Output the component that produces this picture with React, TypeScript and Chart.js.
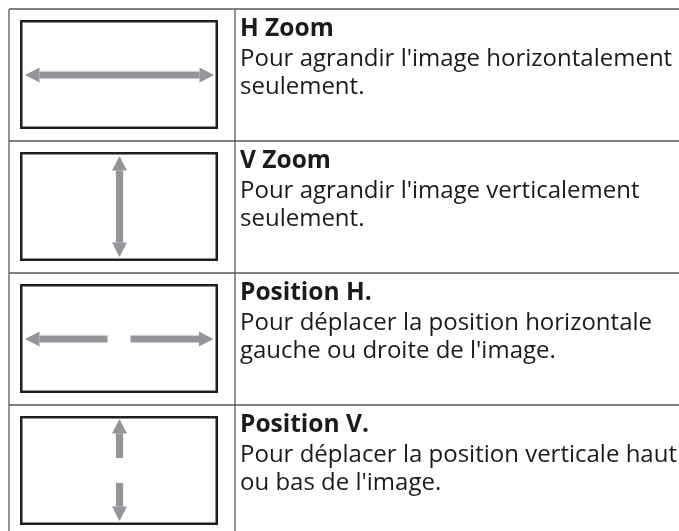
import React, { useEffect, useRef } from "react";
import { Chart, registerables } from "chart.js";

Chart.register(...registerables);

// ---- content ----
const titles = ["H Zoom", "V Zoom", "Position H.", "Position V."];
const descFirstLines = [
  "Pour agrandir l'image horizontalement",
  "Pour agrandir l'image verticalement",
  "Pour déplacer la position horizontale",
  "Pour déplacer la position verticale haut",
];
const descSecondLines = [
  "seulement.",
  "seulement.",
  "gauche ou droite de l'image.",
  "ou bas de l'image.",
];
const arrowKinds = ["h", "v", "hSplit", "vSplit"];

// ---- layout / style ----
const W = 679;
const H = 531;
const TABLE_TOP = 9;
const ROW_H = 132;
const TABLE_LEFT = 9;
const COL_X = 235;
const TEXT_X = 240;
const GRID_COLOR = "#58595b";
const BOX_COLOR = "#231f20";
const ARROW_COLOR = "#939598";
const TEXT_COLOR = "#1d1a1b";
const FONT_FAMILY = '"Open Sans", "Noto Sans", sans-serif';
const FONT_SIZE = 24;
const TITLE_SIZE = 24.5;

function drawArrow(
  ctx: CanvasRenderingContext2D,
  x1: number, y1: number, x2: number, y2: number,
  headStart: boolean, headEnd: boolean
) {
  const headLen = 14.5;
  const headHalf = 7.5;
  const shaftHalf = 3.6;
  const dx = x2 - x1, dy = y2 - y1;
  const len = Math.hypot(dx, dy);
  const ux = dx / len, uy = dy / len;
  const px = -uy, py = ux;
  const s0 = headStart ? headLen : 0;
  const s1 = headEnd ? len - headLen : len;
  ctx.fillStyle = ARROW_COLOR;
  ctx.beginPath();
  ctx.moveTo(x1 + ux * s0 + px * shaftHalf, y1 + uy * s0 + py * shaftHalf);
  ctx.lineTo(x1 + ux * s1 + px * shaftHalf, y1 + uy * s1 + py * shaftHalf);
  ctx.lineTo(x1 + ux * s1 - px * shaftHalf, y1 + uy * s1 - py * shaftHalf);
  ctx.lineTo(x1 + ux * s0 - px * shaftHalf, y1 + uy * s0 - py * shaftHalf);
  ctx.closePath();
  ctx.fill();
  if (headStart) {
    ctx.beginPath();
    ctx.moveTo(x1, y1);
    ctx.lineTo(x1 + ux * headLen + px * headHalf, y1 + uy * headLen + py * headHalf);
    ctx.lineTo(x1 + ux * headLen - px * headHalf, y1 + uy * headLen - py * headHalf);
    ctx.closePath();
    ctx.fill();
  }
  if (headEnd) {
    ctx.beginPath();
    ctx.moveTo(x2, y2);
    ctx.lineTo(x2 - ux * headLen + px * headHalf, y2 - uy * headLen + py * headHalf);
    ctx.lineTo(x2 - ux * headLen - px * headHalf, y2 - uy * headLen - py * headHalf);
    ctx.closePath();
    ctx.fill();
  }
}

const tablePlugin = {
  id: "tablePlugin",
  beforeDraw(chart: any) {
    const ctx: CanvasRenderingContext2D = chart.ctx;
    const xs = chart.scales.x;
    const ys = chart.scales.y;
    const X = (v: number) => xs.getPixelForValue(v);
    const Y = (v: number) => ys.getPixelForValue(v);
    ctx.save();
    ctx.fillStyle = "#ffffff";
    ctx.fillRect(0, 0, chart.width, chart.height);

    const n = titles.length;
    // grid
    ctx.strokeStyle = GRID_COLOR;
    ctx.lineWidth = 1.3;
    for (let i = 0; i <= n; i++) {
      const y = Y(i);
      ctx.beginPath();
      ctx.moveTo(X(TABLE_LEFT), y);
      ctx.lineTo(X(W), y);
      ctx.stroke();
    }
    [TABLE_LEFT, COL_X].forEach((cx) => {
      ctx.beginPath();
      ctx.moveTo(X(cx), Y(0));
      ctx.lineTo(X(cx), Y(n));
      ctx.stroke();
    });

    for (let i = 0; i < n; i++) {
      const top = Y(i);
      // inner screen box
      ctx.strokeStyle = BOX_COLOR;
      ctx.lineWidth = 2.5;
      ctx.strokeRect(X(21.25), top + 12.25, X(216.75) - X(21.25), 106.5);

      const cx = X(119.5);
      const cy = top + 66;
      const kind = arrowKinds[i];
      if (kind === "h") {
        drawArrow(ctx, cx - 94.5, cy, cx + 94.5, cy, true, true);
      } else if (kind === "v") {
        drawArrow(ctx, cx, top + 15, cx, top + 116, true, true);
      } else if (kind === "hSplit") {
        drawArrow(ctx, cx - 94.5, cy, cx - 12, cy, true, false);
        drawArrow(ctx, cx + 11, cy, cx + 94, cy, false, true);
      } else if (kind === "vSplit") {
        drawArrow(ctx, cx, top + 14, cx, top + 53, true, false);
        drawArrow(ctx, cx, top + 78, cx, top + 116, false, true);
      }

      // texts
      ctx.fillStyle = TEXT_COLOR;
      ctx.textBaseline = "alphabetic";
      ctx.textAlign = "left";
      ctx.font = `bold ${TITLE_SIZE}px ${FONT_FAMILY}`;
      ctx.fillText(titles[i], X(TEXT_X), top + 27);
      ctx.font = `${FONT_SIZE}px ${FONT_FAMILY}`;
      ctx.fillText(descFirstLines[i], X(TEXT_X), top + 57);
      ctx.fillText(descSecondLines[i], X(TEXT_X), top + 85);
    }
    ctx.restore();
  },
};

export default function App() {
  const ref = useRef<HTMLCanvasElement | null>(null);
  useEffect(() => {
    if (!ref.current) return;
    const chart = new Chart(ref.current, {
      type: "scatter",
      data: { datasets: [] },
      options: {
        responsive: false,
        animation: false,
        events: [],
        layout: { padding: 0 },
        plugins: { legend: { display: false }, tooltip: { enabled: false } },
        scales: {
          x: { type: "linear", min: 0, max: W, display: false },
          y: {
            type: "linear",
            min: -TABLE_TOP / ROW_H,
            max: (H - TABLE_TOP) / ROW_H,
            reverse: true,
            display: false,
          },
        },
      },
      plugins: [tablePlugin],
    } as any);
    return () => chart.destroy();
  }, []);
  return (
    <div style={{ position: "fixed", left: 0, top: 0, width: W, height: H, background: "#fff" }}>
      <canvas ref={ref} width={W} height={H} style={{ display: "block" }} />
    </div>
  );
}
